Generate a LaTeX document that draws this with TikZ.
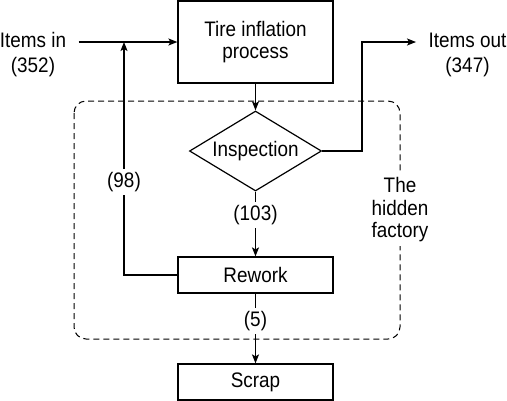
\documentclass[tikz,border=0pt]{standalone}
\usepackage{fontspec}
\setmainfont{Liberation Sans}[FakeStretch=0.9]
\usetikzlibrary{positioning,calc,arrows.meta,shapes.geometric}
\tikzset{font=\fontsize{21}{22.5}\selectfont}

\begin{document}
\begin{tikzpicture}[x=1pt, y=-1pt, line width=1.2pt, >={Stealth[length=9pt,width=7pt,inset=2pt]}]
	\useasboundingbox (0,0) rectangle (507,400);
	\begin{scope}
		\tikzstyle{every node}=[align=center, inner sep=1pt]
		\tikzstyle{proc}=[draw, minimum width=155pt, minimum height=36pt]
		\tikzstyle{io}=[inner xsep=12pt, inner ysep=2pt, text height=15pt, text depth=5pt]
		\tikzstyle{count}=[fill=white, inner sep=3pt]

		\draw[dash pattern=on 6pt off 4pt, rounded corners=12pt, line width=1pt] (74,101) rectangle (400,339);

		\node[proc, minimum height=82pt] (tire) at (255.5,42) {Tire inflation\\process};
		\node[draw, diamond, aspect=1.65, inner sep=0pt, minimum width=132pt, minimum height=80pt] (insp) at (255.5,151) {Inspection};
		\node[proc] (rework) at (255.5,275) {Rework};
		\node[proc] (scrap) at (255.5,382) {Scrap};
		\node[io] (in) at (33,42) {Items in};
		\node[io, below=0pt of in] (innum) {(352)};
		\node[io] (out) at (467.5,42) {Items out};
		\node[io, below=0pt of out] (outnum) {(347)};
		\node[fill=white, inner sep=4pt] (factory) at (400,210) {The\\hidden\\factory};

		\coordinate (join) at (124,42);
		\coordinate (turn) at (362,42);

		\draw[->] (in) -- (tire);
		\draw[->] (tire) -- (insp);
		\draw[->] (insp) -- (rework) node[count, pos=0.36] {(103)};
		\draw[->] (rework) -- (scrap) node[count, pos=0.39] {(5)};
		\draw[->] (rework.west) -| (join) node[count, pos=0.70] {(98)};
		\draw[->] (insp.east) -| (turn) -- (out);
	\end{scope}
\end{tikzpicture}
\end{document}
